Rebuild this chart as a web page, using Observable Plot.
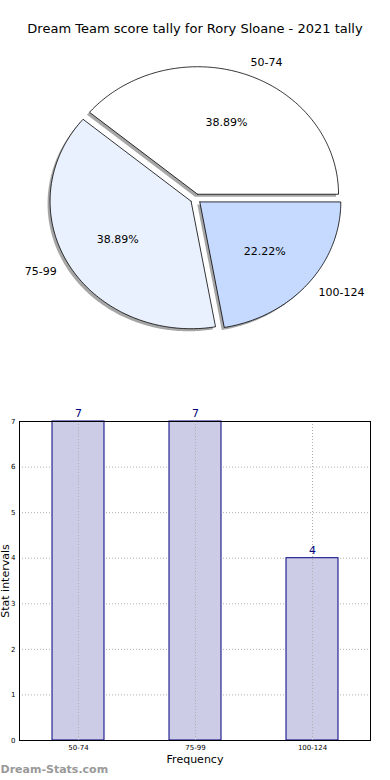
<!DOCTYPE html>
<html>
<head>
<meta charset="utf-8">
<script src="https://cdn.jsdelivr.net/npm/d3@7"></script>
<script src="https://cdn.jsdelivr.net/npm/@observablehq/plot@0.6"></script>
<style>
  html, body { margin: 0; padding: 0; background: #fff; }
  #wrap { position: relative; width: 390px; height: 780px; overflow: hidden; font-family: "DejaVu Sans", sans-serif; }
  #title { position: absolute; left: 0; top: 21px; width: 390px; text-align: center; font-size: 13px; color: #000; }
  #pie { position: absolute; left: 0; top: 45px; }
  #bar { position: absolute; left: 0; top: 400px; }
  svg { overflow: visible; }
</style>
</head>
<body>
<div id="wrap">
  <div id="title">Dream Team score tally for Rory Sloane - 2021 tally</div>
  <div id="pie"></div>
  <div id="bar"></div>
</div>
<script>
const categories = ["50-74", "75-99", "100-124"];
const values = [7, 7, 4];
const sliceColors = ["#ffffff", "#eaf1fe", "#c6d9fe"];
const barFill = "#ccccE6";
const barStroke = "#000080";
const yTicks = [0, 1, 2, 3, 4, 5, 6, 7];

// ---------- Pie ----------
const total = d3.sum(values);
const explode = 0.038;
let cum = 0;
const slices = categories.map((c, i) => {
  const a0 = 2 * Math.PI * cum / total;
  cum += values[i];
  const a1 = 2 * Math.PI * cum / total;
  const mid = (a0 + a1) / 2;
  const ox = explode * Math.cos(mid), oy = explode * Math.sin(mid);
  const pts = [{x: ox, y: oy}];
  const n = Math.max(8, Math.round((a1 - a0) / (Math.PI / 180)));
  for (let k = 0; k <= n; k++) {
    const t = a0 + (a1 - a0) * k / n;
    pts.push({x: ox + Math.cos(t), y: oy + Math.sin(t)});
  }
  pts.push({x: ox, y: oy});
  return {
    cat: c, pts, mid, ox, oy,
    pct: (100 * values[i] / total).toFixed(2) + "%",
    lx: ox + 1.1 * Math.cos(mid), ly: oy + 1.1 * Math.sin(mid),
    px: ox + 0.6 * Math.cos(mid), py: oy + 0.6 * Math.sin(mid)
  };
});

const pieMarks = [];
slices.forEach(s => {
  pieMarks.push(Plot.line(s.pts, {x: "x", y: "y", fill: "#4d4d4d", fillOpacity: 0.5, stroke: "none", dx: -2.5, dy: 2.5}));
});
slices.forEach((s, i) => {
  pieMarks.push(Plot.line(s.pts, {x: "x", y: "y", fill: sliceColors[i], stroke: "#000", strokeWidth: 0.8, strokeLinejoin: "miter"}));
});
pieMarks.push(Plot.text(slices.filter(s => Math.cos(s.mid) >= 0), {x: "lx", y: "ly", text: "cat", textAnchor: "start", fontSize: 11, fill: "#000"}));
pieMarks.push(Plot.text(slices.filter(s => Math.cos(s.mid) < 0), {x: "lx", y: "ly", text: "cat", textAnchor: "end", fontSize: 11, fill: "#000"}));
pieMarks.push(Plot.text(slices, {x: "px", y: "py", text: "pct", fontSize: 11, fill: "#000"}));

const pie = Plot.plot({
  width: 390, height: 355,
  margin: 0,
  style: {fontFamily: "DejaVu Sans, sans-serif", background: "transparent"},
  x: {domain: [-195.2 / 141, 194.8 / 141], axis: null},
  y: {domain: [-(355 - 153.3) / 127.5, 153.3 / 127.5], axis: null},
  marks: pieMarks
});
document.getElementById("pie").appendChild(pie);

// ---------- Bars ----------
const barData = categories.map((c, i) => ({cat: c, value: values[i]}));
const bar = Plot.plot({
  width: 390, height: 380,
  marginTop: 21, marginBottom: 40, marginLeft: 19, marginRight: 20,
  style: {fontFamily: "DejaVu Sans, sans-serif", background: "transparent"},
  x: {domain: categories, paddingInner: 0.556, paddingOuter: 0.278, axis: null},
  y: {domain: [0, 7], axis: null},
  marks: [
    Plot.gridY(yTicks, {stroke: "#b0b0b0", strokeOpacity: 1, strokeDasharray: "1,2", strokeWidth: 1}),
    Plot.barY(barData, {x: "cat", y: "value", fill: barFill, stroke: barStroke, strokeWidth: 1}),
    Plot.gridX(categories, {stroke: "#b0b0b0", strokeOpacity: 1, strokeDasharray: "1,2", strokeWidth: 1}),
    Plot.frame({stroke: "#000", strokeWidth: 1}),
    Plot.axisY(yTicks, {tickSize: 0, tickPadding: 4, fontSize: 7, label: null, fill: "#000"}),
    Plot.axisX(categories, {tickSize: 0, tickPadding: 5, fontSize: 7, label: null, fill: "#000"}),
    Plot.text(barData, {x: "cat", y: "value", text: d => String(d.value), dy: -8, fontSize: 11, fill: barStroke}),
    Plot.text(["Frequency"], {frameAnchor: "bottom", text: d => d, dy: 22, fontSize: 11, fill: "#000"}),
    Plot.text(["Stat intervals"], {frameAnchor: "left", text: d => d, textAnchor: "middle", rotate: -90, dx: -14, fontSize: 11, fill: "#000"}),
    Plot.text(["Dream-Stats.com"], {frameAnchor: "bottom-left", text: d => d, textAnchor: "start", dx: -19, dy: 32, fontSize: 11, fontWeight: 600, fill: "#999999"})
  ]
});
document.getElementById("bar").appendChild(bar);
</script>
</body>
</html>
